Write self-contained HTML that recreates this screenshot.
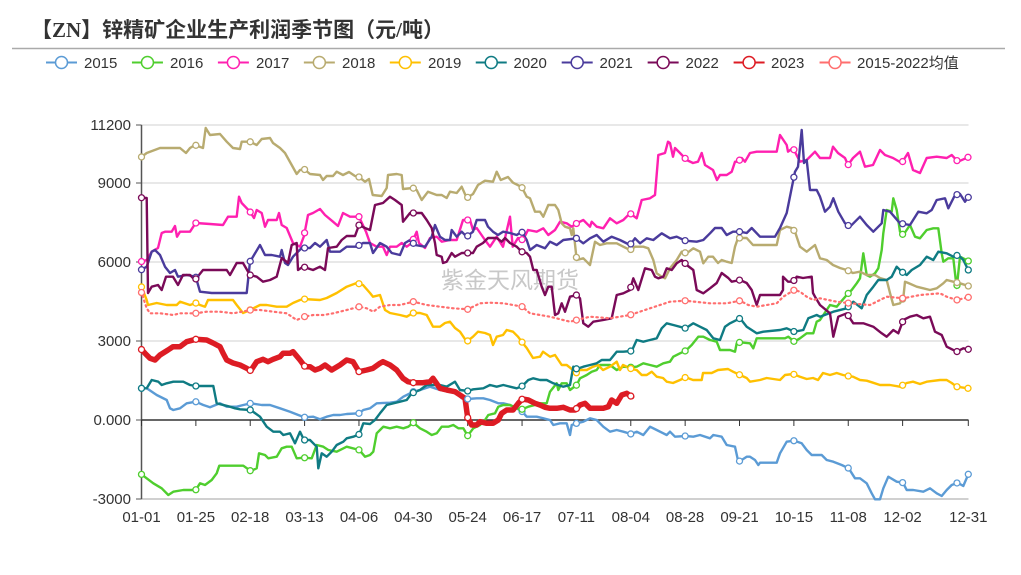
<!DOCTYPE html>
<html><head><meta charset="utf-8">
<style>
html,body{margin:0;padding:0;background:#fff;}
body{width:1021px;height:575px;overflow:hidden;position:relative;}
svg{position:absolute;left:0;top:0;}
text{font-family:"Liberation Sans","Noto Sans CJK SC",sans-serif;}
</style></head>
<body>
<svg id="c" width="1021" height="575" viewBox="0 0 1021 575" xmlns="http://www.w3.org/2000/svg">
<text x="31" y="37" font-size="21" font-weight="bold" fill="#333" style="font-family:'Liberation Serif','Noto Sans CJK SC',sans-serif">【ZN】锌精矿企业生产利润季节图（元/吨）</text>
<line x1="12" y1="48.5" x2="1005" y2="48.5" stroke="#aaa" stroke-width="1.5"/>

<g id="legend" font-size="15" fill="#333"></g>

<text x="510" y="288" font-size="23" fill="#c8c8c8" text-anchor="middle" style="font-family:'Noto Sans CJK SC',sans-serif">紫金天风期货</text>

<g stroke="#d0d0d0" stroke-width="1">
<line x1="141.5" y1="125" x2="968.5" y2="125"/>
<line x1="141.5" y1="183" x2="968.5" y2="183"/>
<line x1="141.5" y1="262" x2="968.5" y2="262"/>
<line x1="141.5" y1="341" x2="968.5" y2="341"/>
<line x1="141.5" y1="499" x2="968.5" y2="499" stroke-width="2"/>
</g>
<line x1="141.5" y1="125" x2="141.5" y2="499" stroke="#555" stroke-width="1.5"/>
<g stroke="#555" stroke-width="1">
<line x1="136" y1="125" x2="141.5" y2="125"/>
<line x1="136" y1="183" x2="141.5" y2="183"/>
<line x1="136" y1="262" x2="141.5" y2="262"/>
<line x1="136" y1="341" x2="141.5" y2="341"/>
<line x1="136" y1="420" x2="141.5" y2="420"/>
<line x1="136" y1="499" x2="141.5" y2="499"/>
</g>
<g font-size="15" fill="#333" text-anchor="end">
<text x="131" y="130">11200</text>
<text x="131" y="188">9000</text>
<text x="131" y="267">6000</text>
<text x="131" y="346">3000</text>
<text x="131" y="425">0.000</text>
<text x="131" y="504">-3000</text>
</g>
<line x1="141.5" y1="420" x2="968.5" y2="420" stroke="#333" stroke-width="1.5"/>
<g id="xticks" stroke="#333" stroke-width="1"></g>
<g font-size="15" fill="#333" text-anchor="middle">
<text x="141.5" y="522">01-01</text>
<text x="195.9" y="522">01-25</text>
<text x="250.2" y="522">02-18</text>
<text x="304.6" y="522">03-13</text>
<text x="359" y="522">04-06</text>
<text x="413.3" y="522">04-30</text>
<text x="467.7" y="522">05-24</text>
<text x="522.1" y="522">06-17</text>
<text x="576.4" y="522">07-11</text>
<text x="630.8" y="522">08-04</text>
<text x="685.1" y="522">08-28</text>
<text x="739.5" y="522">09-21</text>
<text x="793.9" y="522">10-15</text>
<text x="848.2" y="522">11-08</text>
<text x="902.6" y="522">12-02</text>
<text x="968.3" y="522">12-31</text>
</g>

<g id="series" fill="none" stroke-linejoin="round" stroke-linecap="round">
<polyline id="s2015" stroke="#5b9bd5" stroke-width="2.4" points="141,388.3 146.7,388.3 156.7,395 166.7,400 170,408.3 173.3,410 180,408.3 186.7,403.3 195.7,401.7 203.3,405 210,407.3 220,403.3 226.7,406.7 236.7,406.7 243.3,405 250.7,403.3 261.7,405 270,405 280,408.3 290,411.7 298.3,415 304.3,417.3 313.3,416.7 320,419.3 326.7,416.7 333.3,415 340,415 346.7,414 359.3,413.3 363.3,410 370,408.3 376.7,403.3 390,402.7 396.7,401.7 403.3,396.7 413.3,391.7 420,390 430,386.7 440,390 450,391.7 456.7,393.3 461.7,398.3 467.7,399 476.7,398.3 483.3,398.3 490,400 498.3,403.3 503.3,403.3 510,405 516.7,408.3 522.3,411.7 526.7,416.7 536.7,416.7 543.3,418.3 550,420 553.3,425 560,423.3 566.7,423.3 570,435 571.7,425 576.7,423.3 583.3,421.7 590,418.3 596.7,420 603.3,426.7 610,431.7 616.7,430 623.3,431.7 631,434 636.7,431.7 643.3,435 650,426.7 656.7,430 663.3,433.3 666.7,435 670,431.7 675,436.7 685.7,436 693.3,436.7 700,435 710,438.3 713.3,435 721.7,436.7 726.7,445 735,446.7 738.3,461.7 741.7,460 746.7,456.7 750,456.7 755,460 758.3,465 760,462.7 776.7,462.7 780,453.3 786.7,441.7 794.3,440.7 801.7,443.3 806.7,450 811.7,455 821.7,455 826.7,460 833.3,461.7 841.7,465 848.7,468.3 855,478.3 860,478.3 866.7,483.3 871.7,493.3 875,499.3 880,499.3 883.3,488.3 888.3,476.7 896.7,481.7 903,482.7 906.7,490 913.3,490 923.3,491.7 930,488.3 936.7,493.3 941.7,496 946.7,490 951.7,485 957.7,482.7 963.3,486 968.3,474.3"/>
<polyline id="s2016" stroke="#4fce2e" stroke-width="2.4" points="141,474 146.7,478.3 153.3,483.3 161.7,488.3 168.3,495 173.3,491.7 183.3,490 195.7,490 200,483.3 205,485 211.7,480 216.7,473.3 219.3,465.7 243.3,465.7 250.7,471 256.7,468.3 259,453.3 265,455 268.3,458.3 276.7,456.7 281.7,448.3 286.7,446.7 291.7,446.7 296.7,458.3 304,457.7 311.7,458.3 316.7,445 323.3,446.7 328.3,450 336.7,451.7 346.7,446.7 359.3,450 365,456.7 370,455 373.3,451.7 376.7,433.3 383.3,426.7 390,428.3 396.7,426.7 403.3,428.3 408.3,426.7 413.3,422.7 420,428.3 426.7,431.7 431.7,435 436.7,433.3 441.7,426.7 448.3,426.7 453.3,425 458.3,428.3 463.3,428.3 467.7,435.7 473.3,428.3 480,425 485,420 488.3,415 495,413.3 498.3,406.7 503.3,405 510,405 516.7,408.3 522.3,409.3 528.3,406.7 535,405 540,403.3 546.7,403.3 550,391.7 556.7,383.3 558.3,390 561.7,383.3 566.7,383.3 570,390 576.7,385 580,378.3 586.7,375 591.7,371.7 596.7,370 600,365 610,365 616.7,370 623.3,366.7 630,367.3 636.7,366.7 643.3,363.3 650,365 656.7,366.7 663.3,363.3 670,361.7 673.3,356.7 680,353.3 685.7,350.7 691.7,345 698.3,336.7 703.3,336.7 710,340 716.7,341.7 720,350 730,350 735,351.7 736.7,343.3 740,342.3 750,343.3 753.3,348.3 756.7,338.3 785,338.3 788.3,336.7 794.3,341.7 800,338.3 806.7,333.3 813.3,333.3 816.7,321.7 820,320 830,305 836.7,306.7 846.7,295 851.7,290 856.7,283.3 860,278.3 863.3,253.3 866.7,275 870,276.7 875,273.3 878.3,268.3 881.7,250 883.3,233.3 886.7,210 891.7,211.7 893.3,198.3 896.7,210 900,231.7 903.3,235 910,225 915,236.7 920,238.3 926.7,230 933.3,228.3 938.3,228.3 941.7,253.3 943.3,261.7 948.3,258.3 953.3,258.3 956.7,288 960,256.7 968.3,261"/>
<polyline id="s2017" stroke="#ff20b0" stroke-width="2.4" points="141,261.7 146.7,260 151.7,251.7 158,248 161.7,233 165,231.7 171.7,231.7 175,226 177,236.7 180,231.7 190,231.7 195.7,223 210,224 223,225 228,216.7 236.7,216.7 239,196.7 241.7,203 250,211.7 254,218 256.7,210 261.7,213 265,226.7 268,220 276.7,220 279,213 281.7,225 286.7,228 293,243 300,246.7 304,236 308,215 313,213 320,209 325,215 333,221.7 338,226 343,213 350,216.7 359,216.7 366,231.7 370,243 376.7,246.7 383,246.7 386.7,255 390,246.7 396.7,246.7 401.7,243 406.7,246.7 411.7,243 416.7,231.7 419,243 425,248 430,238 436.7,236.7 441.7,241.7 450,240 456.7,240 463,220 470,220 473,230 476.7,228 485,240 490,246.7 496.7,236.7 503,246.7 510,216.7 512.7,246.7 518,238 523,240 528,230 536.7,231.7 543.3,228.3 548.3,235 555,230 560,221.7 566.7,223.3 571.7,226.7 576.7,223.3 583.3,220 590,226.7 591.7,221.7 596.7,226.7 603.3,228.3 610,218.3 616.7,223.3 623.3,220 630,213.3 636.7,218.3 641.7,200 650,198.3 655,195 658.3,155 665,153 668,141.7 670,143 673,156.7 675,148 680,153 686.7,160 693,163 698,161.7 701.7,153 705,165 713,170 717,180 720,175 726.7,175 731.7,171.7 735,161.7 738,161.7 741.7,158 745,161.7 750,153 756.7,151.7 776.7,151.7 780,135 786.7,145 788,151.7 793,148 800,161.7 806.7,160 815,151.7 820,158 830,158 833,146.7 838,153 845,158 848,165 853,158 860,151.7 865,166.7 873,165 880,150 885,155 893,158 901.7,163 908,153 913,170 920,173 926.7,158 936.7,156.7 946.7,158 951.7,155 958,161.7 968,157.3"/>
<polyline id="s2018" stroke="#b8ab70" stroke-width="2.4" points="141,157.3 146.7,153 160,148 180,148 186,153 190,148 195,145 203,148 205.7,128 210,135 220,134 226.7,141.7 233,148 240,149 241.7,141.7 250,141.7 256.7,145 261.7,139 270,138 273,143 280,148 285,153 291.7,165 296.7,174 300,170 304,169 310,174 320,175 323,180 326.7,176 333,176 336.7,171.7 343,175 349,172 355,176 359,177 365,181.7 369,179 372.7,195 381.7,196 386.7,188 388,175 396.7,174 401.7,175 403,189 413,188 416.7,190 421.7,200 428,191.7 436.7,195 441.7,195 446.7,198 450,191.7 456.7,193 461.7,186.7 466.7,198 473,194 478,185 485,180.7 493,181.7 496.7,171.7 500.7,180 508,177 513,182.7 521.7,187 526.7,196.7 530,198.3 535,211.7 540,211.7 543.3,216.7 548.3,205 555,205 558.3,210 561.7,223.3 565,226.7 570,228.3 571.7,235 573.3,228.3 576.7,260 583.3,258.3 586.7,261.7 590,265 595,241.7 600,245 606.7,243.3 616.7,243.3 623.3,246.7 630,250 635,246.7 643.3,246.7 648.3,248.3 653.3,260 656.7,273.3 661.7,276.7 665,278.3 670,268.3 676.7,260 681.7,251.7 686.7,253.3 693.3,248.3 700,251.7 703.3,263.3 708.3,256.7 713,256.7 718,263 721.7,260 726.7,261.7 731.7,263 735,246.7 738,238 746.7,238 753,245 776.7,245 780,230 786.7,226.7 791.7,228 795,231.7 800,246.7 806.7,251.7 815,245 820,258.3 826.7,260 833,265 840,268 846.7,270 853,273 860,271.7 866.7,275 875,275 880,278 886.7,280 890,293 893.3,305 900,303.3 903.3,298 905,281.7 908.3,283 916.7,286.7 923.3,288.3 930,290 936.7,288.3 943.3,283.3 946.7,280 953.3,281.7 960,283.3 968.3,286"/>
<polyline id="s2019" stroke="#ffc000" stroke-width="2.4" points="141,285.7 146.7,300 148,305 156.7,303 166.7,305 176.7,305 180,301.7 190,305 195.7,303 200,305 205,306.7 208,300 233,300 236.7,305 243,313 250,310 260,305 266.7,305 276.7,306.7 286.7,306.7 293,303 300,300 303,299 320,300 326.7,298 336.7,293 346.7,286.7 356.7,283 363,285 370,293 373,296.7 380,295 385,310 390,313 400,315 406.7,316.7 413,313 420,313 426.7,315 433,326.7 440,326.7 445,323 450,321.7 455,328 460,331.7 466.7,341.7 473,336.7 478,331.7 485,333 490,335 493,345 496.7,336.7 503,335 506.7,330 513,331.7 518,336.7 521.7,341.7 526.7,348 533,358 540,356.7 543,351.7 550,356.7 555,355 561.7,365 566.7,365 573,370 576.7,373 580,370 586.7,370 593,366.7 598,365 603,370 610,366.7 616.7,361.7 620,370 623,365 631.7,369 636.7,370 641.7,375 646.7,375 651.7,371.7 656.7,376.7 663,378 666.7,381.7 673,383 680,380 685.7,377.3 693,380 701.7,380 703,373 711.7,373 718,370 728,369 733,371.7 740,375 746.7,378 750,381.7 760,380 766.7,378 780,380 785,375 793,374 800,376.7 806.7,379 813,378 818,380 823,373 830,375 836.7,373 843,375 848,376 853,376.7 860,380 866.7,380.7 873,382.7 880,385 890,385 900,386.7 906.7,383 913,381.7 920,384 926.7,381.7 940,380 946.7,380 951.7,383 956.7,386.7 968,388.3"/>
<polyline id="s2020" stroke="#0f7b83" stroke-width="2.4" points="141,388.3 146.7,388.3 151.7,380 158.3,381.7 161.7,385 166.7,383.3 173.3,381.7 183.3,381.7 190,385 195.7,386 213.3,386 216.7,403.3 230,406.7 235,408.3 240,409.3 250.7,410 260,416.7 266.7,426.7 273.3,431.7 280,431.7 283.3,435 290,433.3 295,443.3 300,431.7 304,440 310,440 313.3,443.3 316.7,446.7 318.3,468.3 321.7,453.3 326.7,456.7 331.7,451.7 336.7,445 343.3,441.7 346.7,438.3 353.3,436.7 359.3,434.3 363.3,423.3 370,424 375,420 380,413.3 386.7,405 393.3,403.3 400,401.7 406.7,400 411.7,393.3 420,390 426.7,385 440,385 446.7,386.7 455,381.7 460,390 467.7,391 473.3,389.3 483.3,388.3 490,385 496.7,386.7 503.3,385 510,386.7 516.7,388.3 522.3,386 528.3,380 533.3,378.3 540,380 546.7,380 553.3,383.3 558.3,385 563.3,386.7 570,385 573.3,366.7 576.7,369 583.3,366.7 590,365 596.7,363.3 601.7,360 610,360 616.7,351.7 623.3,351.7 631.7,351 636.7,340 643.3,341.7 650,340 656.7,338.3 661.7,328.3 666.7,323.3 673.3,325 685.7,328.3 693.3,323.3 700,326.7 706.7,330 713.3,338.3 720,340 725,326.7 730,323.3 740,318.3 746.7,326.7 756.7,333.3 763.3,331.7 780,330 786.7,328.3 794.3,331.7 803.3,330 808.3,318.3 816.7,315 820,316.7 833.3,311.7 846.7,308.3 853.3,301.7 861.7,308.3 866.7,295 873.3,286.7 878.3,280 886.7,280 891.7,276.7 896.7,266.7 901.7,271.7 906.7,275 911.7,270 920,265 926.7,256.7 933.3,260 938.3,251.7 946.7,253.3 953.3,256.7 958.3,255 963.3,260 968.3,270"/>
<polyline id="s2021" stroke="#4a3b9c" stroke-width="2.4" points="141,270 146.7,266.7 151.7,251.7 155,250 160,255 165,266.7 170,273 175,270 178,276.7 186.7,275 195.7,276.7 200,291.7 211.7,293 246.7,293 250,261.7 253,256.7 260,245 265,255 271.7,255 280,256.7 281.7,250 285,263 288,265 293,256.7 301.7,248 310,248 315,243 320,246.7 326.7,240 330,251.7 340,251.7 346.7,246.7 356.7,246.7 363,243 370,243 373,253 380,243 386.7,246.7 391.7,253 400,255 405,243 410,240 415,245 425,246.7 431.7,236.7 435,225 440,236.7 445,240 450,240 451.7,230 456.7,236.7 461.7,231.7 466.7,236.7 473,231.7 476.7,220 485,220 488,226.7 493,231.7 498,235 503,231.7 510,233 516.7,235 521.7,231.7 526.7,240 530,250 536.7,245 545,248.3 550,241.7 556.7,245 563.3,240 576.7,238.3 583.3,243.3 590,238.3 596.7,235 603.3,241.7 611.7,236.7 620,240 630,245 635,238.3 640,243.3 646.7,238.3 653.3,240 661.7,233.3 670,238.3 676.7,236.7 685.3,240.7 696.7,241.7 703.3,240 710,233.3 715,228 721.7,228 726.7,235 733,231.7 740,231.7 746.7,233 751.7,228 760,236.7 775,236.7 780,228 786.7,213 791.7,188 795,171.7 798,166.7 801.7,130 804,163 806.7,160 810,190 816.7,190 820,196.7 825,211.7 830,206.7 833.3,198.3 838.3,211.7 845,223.3 850,226.7 860,216.7 866.7,225 873.3,231.7 881.7,223.3 883.3,210 890,211.7 900,223.3 910,225 918.3,211.7 926.7,213.3 931.7,210 936.7,200 945,198.3 948.3,208.3 955,195 960,194 965,201.7 968.3,197.3"/>
<polyline id="s2022" stroke="#7a0a58" stroke-width="2.4" points="141,197.7 146.7,198 148,293 151.7,286.7 158,285 161.7,290 166,276.7 173,276.7 178,285 183,275 190,275 195,280 203,270 226.7,270 230,275 236.7,263 243,263 250,275 256.7,276.7 263,281.7 270,280 276.7,276.7 281.7,258 288,263 291.7,245 296.7,243 298,270 303,266.7 313,270 320,266.7 325,270 328,248 336.7,246.7 341.7,240 346.7,236 355,236 359,225 365,228 370,230 375,205 383,203 390,196.7 395,200 401.7,205 403,221.7 410,213 421.7,213 426.7,220 431.7,228 435,243 436.7,255 441.7,256.7 443,263 446.7,261.7 451.7,253 455,256.7 461.7,253 473,253 476.7,246.7 483,243 488,238 496.7,238 501.7,241.7 505,238 510,243 516.7,246.7 521.7,251.7 526.7,253 530,256.7 533.3,270 536.7,270 541.7,286.7 545,295 548.3,286.7 551.7,286.7 555,315 558.3,313.3 561.7,303.3 565,311.7 570,296.7 576.7,295 580,298.3 583.3,323.3 588.3,326.7 593.3,321.7 603.3,320 611.7,318.3 616.7,295 623.3,293.3 630,290 633.3,278.3 638.3,290 645,268.3 651.7,270 655,276.7 658.3,278.3 663.3,276.7 666.7,268.3 671.7,270 676.7,263.3 681.7,260 686.7,265 693.3,270 696.7,290 703.3,293.3 710,288.3 716.7,283 721.7,273 728.3,278 731.7,281.7 740,280 746.7,283 751.7,290 756.7,305 760,295 780,295 783,290 783,276.7 788,281.7 793,281.7 796.7,276.7 803,278 811.7,276.7 813,293 815,296.7 820,305 830,313.3 833.3,336.7 838.3,316.7 846.7,313.3 853.3,323.3 863.3,323.3 873.3,326.7 881.7,333.3 886.7,336.7 893.3,330 898.3,333.3 903.3,320 910,316.7 916.7,315 923.3,318.3 930,316.7 935,331.7 941.7,335 946.7,346.7 956.7,351.7 963.3,348.3 968.3,349.3"/>
<polyline id="savg" stroke="#ff6e6e" stroke-width="2.2" stroke-dasharray="1.5,3.5" points="141,291 146.7,308.3 150,313.3 160,313.3 173.3,315 180,313.3 195.7,313.3 206.7,311.7 220,311.7 233.3,313.3 250.7,310 260,310 273.3,311.7 286.7,313.3 296.7,320 304.3,316.7 313.3,315 323.3,315 333.3,313.3 346.7,310 359.3,306.7 366.7,308.3 373.3,311.7 380,306.7 390,305 400,305 413.3,301.7 426.7,305 440,306.7 453.3,308.3 467.7,309.3 480,303.3 490,302.7 503.3,303.3 513.3,305 522.3,306.7 530,313.3 550,316.7 570,321.7 590,316.7 610,318.3 630,315 650,308.3 670,301.7 685,300.7 710,303.3 726.7,303.3 740,300.7 748.3,305 756.7,306.7 766.7,305 776.7,303.3 783.3,296.7 794.3,290 800,291.7 806.7,296.7 813.3,300 820,298.3 836.7,301.7 850,303.3 870,305 886.7,296.7 903.3,298.3 920,295 940,293.3 946.7,296.7 956.7,300 968.3,297.3"/>
<polyline id="s2023" stroke="#dd1c24" stroke-width="5.5" points="141,349 145,353.3 150,358.3 155,360 160,355 168,350 173,346.7 180,346.7 186.7,341.7 195.7,339.3 206.7,340 213,343 220,346.7 223,353 226.7,360 233,363 240,365 246.7,368.3 250.7,370.7 256.7,361.7 263,359.3 268,361.7 273,359.3 280,356.7 283,353.3 290,353.3 293,351.7 300,360 305,366.7 310,366.7 315,370 320,368.3 325,365 331.7,370 340,365 346.7,360 353,361.7 359,371.7 366.7,370 373,368.3 380,363.3 383,361.7 390,365 396.7,370 403,378.3 408,381.7 413,382.7 423,382.7 430,381.7 433,378.3 440,388.3 446.7,390 455,391.7 460,395 465,398.3 467.7,417.7 471.7,425 476.7,425 480,421.7 486.7,423.3 493,423.3 498.3,420 501.7,413.3 506.7,410 513,410 518.3,403.3 522.3,399 528.3,400 535,403.3 540,405 545,407.3 550,408.3 556.7,408.3 563.3,407.3 570,410 575,410 580,405 585,403.3 590,408.3 603.3,408.3 608.3,406.7 611.7,400 616.7,403.3 621.7,395 626.7,393.3 631.7,396.7"/>
</g>
<g id="markers"></g>
</svg>
<script>
(function(){
var NS="http://www.w3.org/2000/svg";
var xs=[];for(var k=0;k<16;k++)xs.push(141.5+54.365*k);xs.push(968.3);
var xt=document.getElementById('xticks');
var tx=[];for(var k=0;k<15;k++)tx.push(141.5+54.365*k);tx.push(968.3);
tx.forEach(function(x){var l=document.createElementNS(NS,'line');l.setAttribute('x1',x);l.setAttribute('x2',x);l.setAttribute('y1',420);l.setAttribute('y2',426);xt.appendChild(l);});
function pts(id){var s=document.getElementById(id).getAttribute('points').trim().split(/\s+/);return s.map(function(p){var a=p.split(',');return [+a[0],+a[1]];});}
function interp(P,x){if(x<=P[0][0])return P[0][1];for(var i=1;i<P.length;i++){if(P[i][0]>=x){var a=P[i-1],b=P[i];if(b[0]==a[0])return b[1];return a[1]+(b[1]-a[1])*(x-a[0])/(b[0]-a[0]);}}return P[P.length-1][1];}
var M=document.getElementById('markers');
var S=[['s2015','#5b9bd5'],['s2016','#4fce2e'],['s2017','#ff20b0'],['s2018','#b8ab70'],['s2019','#ffc000'],['s2020','#0f7b83'],['s2021','#4a3b9c'],['s2022','#7a0a58'],['savg','#ff6e6e'],['s2023','#dd1c24']];
S.forEach(function(s){var P=pts(s[0]);var maxx=P[P.length-1][0];xs.forEach(function(x){if(x>maxx+1)return;var xx=Math.min(x,maxx);var c=document.createElementNS(NS,'circle');c.setAttribute('cx',xx);c.setAttribute('cy',interp(P,xx));c.setAttribute('r',3);c.setAttribute('fill','#fff');c.setAttribute('stroke',s[1]);c.setAttribute('stroke-width',1.3);M.appendChild(c);});});
var L=document.getElementById('legend');
var items=[['2015','#5b9bd5'],['2016','#4fce2e'],['2017','#ff20b0'],['2018','#b8ab70'],['2019','#ffc000'],['2020','#0f7b83'],['2021','#4a3b9c'],['2022','#7a0a58'],['2023','#dd1c24'],['avg','#ff6e6e']];
items.forEach(function(it,i){var x0=46+85.95*i;var y=62.5;
var l=document.createElementNS(NS,'line');l.setAttribute('x1',x0);l.setAttribute('x2',x0+31);l.setAttribute('y1',y);l.setAttribute('y2',y);l.setAttribute('stroke',it[1]);l.setAttribute('stroke-width',2);L.appendChild(l);
var c=document.createElementNS(NS,'circle');c.setAttribute('cx',x0+15.5);c.setAttribute('cy',y);c.setAttribute('r',6);c.setAttribute('fill','#fff');c.setAttribute('stroke',it[1]);c.setAttribute('stroke-width',1.5);L.appendChild(c);
});
})();
</script>
<svg width="1021" height="575" style="position:absolute;left:0;top:0;pointer-events:none">
<g font-size="15" fill="#333" style="font-family:'Liberation Sans','Noto Sans CJK SC',sans-serif">
<text x="84" y="68">2015</text>
<text x="170" y="68">2016</text>
<text x="256" y="68">2017</text>
<text x="342" y="68">2018</text>
<text x="428" y="68">2019</text>
<text x="513.5" y="68">2020</text>
<text x="599.5" y="68">2021</text>
<text x="685.5" y="68">2022</text>
<text x="771" y="68">2023</text>
<text x="857" y="68">2015-2022均值</text>
</g>
</svg>
</body></html>
